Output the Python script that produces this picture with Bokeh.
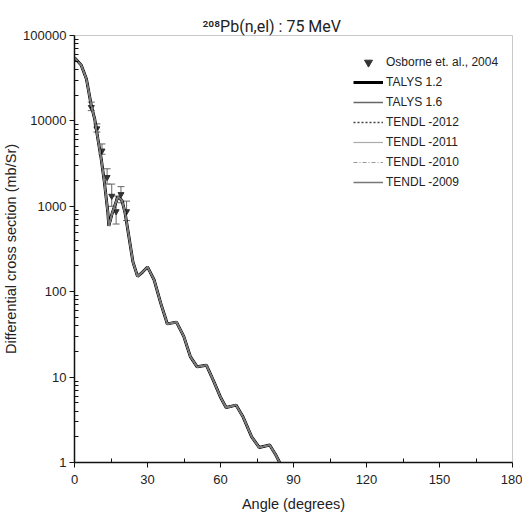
from bokeh.plotting import figure
from bokeh.models import (ColumnDataSource, Whisker, TeeHead, FixedTicker,
                          NumeralTickFormatter, Legend, LegendItem, Range1d)
from bokeh.embed import file_html
from bokeh.resources import INLINE

# ---- data ----
curve_angle = [0, 2.8, 4.9, 6.9, 8.3, 9.6, 11.0, 12.3, 13.7, 14.1, 15.5, 17.8, 19.5,
               20.8, 22.5, 24.0, 25.9, 28.0, 30.0, 32.7, 35.4, 37.5, 38.1, 41.9, 44.9,
               47.6, 50.4, 54.2, 57.1, 59.9, 62.3, 66.4, 69.3, 72.8, 75.9, 80.2, 82.5, 84.3]
curve_xs = [55000, 44700, 30900, 15100, 10500, 6170, 3550, 1900, 850, 590, 830, 1290, 1175,
            830, 417, 224, 151, 170, 195, 138, 74, 48, 42, 44, 30,
            17.4, 13.2, 13.8, 9.1, 5.9, 4.4, 4.7, 3.4, 2.0, 1.5, 1.6, 1.26, 1.0]

exp_angle = [6.9, 9.2, 11.3, 13.4, 15.3, 17.1, 19.1, 21.4]
exp_xs = [14450, 8130, 4470, 2190, 1320, 870, 1380, 870]
exp_hi = [16600, 9230, 5370, 2750, 1820, 1320, 1700, 1150]
exp_lo = [13200, 7410, 4070, 1820, 1000, 620, 1100, 680]

y_ticks = [1, 10, 100, 1000, 10000, 100000]
x_ticks = [0, 30, 60, 90, 120, 150, 180]

series = [
    ("TALYS 1.2", "#000000", 3.0, "solid"),
    ("TALYS 1.6", "#666666", 1.5, "solid"),
    ("TENDL -2012", "#444444", 1.5, "2 2"),
    ("TENDL -2011", "#aaaaaa", 1.2, "solid"),
    ("TENDL -2010", "#999999", 1.2, "4 2 1 2"),
    ("TENDL -2009", "#777777", 1.5, "solid"),
]

FONT = "Liberation Sans"
TXT = "#222222"

p = figure(frame_width=438, frame_height=427, y_axis_type="log",
           x_range=Range1d(0, 180), y_range=Range1d(1, 100000),
           output_backend="svg", toolbar_location=None,
           min_border_left=60, min_border_right=10, min_border_top=35, min_border_bottom=10)

p.xgrid.visible = False
p.ygrid.visible = False
p.outline_line_color = "#c8c8c8"
p.background_fill_color = "white"
p.border_fill_color = "white"

# title
p.title.text = "\u00b2\u2070\u2078Pb(n,el) : 75 MeV"
p.title.text_font = "Roboto"
p.title.text_font_size = "16px"
p.title.text_font_style = "normal"
p.title.text_color = TXT
p.title.align = "left"
p.title.offset = 128
p.title.standoff = 0

# axes
p.xaxis.ticker = FixedTicker(ticks=x_ticks, minor_ticks=[15, 45, 75, 105, 135, 165])
minor = [m * 10 ** k for k in range(0, 5) for m in range(2, 10)]
p.yaxis.ticker = FixedTicker(ticks=y_ticks, minor_ticks=minor)
p.yaxis.formatter = NumeralTickFormatter(format="0")
for ax in (p.xaxis[0], p.yaxis[0]):
    ax.axis_line_color = "#111111"
    ax.axis_line_width = 1.5
    ax.major_tick_line_color = "#111111"
    ax.minor_tick_line_color = "#111111"
    ax.major_tick_out = 5
    ax.major_tick_in = 0
    ax.minor_tick_in = 4
    ax.minor_tick_out = 0
    ax.major_label_text_font = FONT
    ax.major_label_text_font_size = "13px"
    ax.major_label_text_color = TXT
    ax.axis_label_text_font = FONT
    ax.axis_label_text_font_size = "14.5px"
    ax.axis_label_text_font_style = "normal"
    ax.axis_label_text_color = TXT
p.xaxis.major_label_standoff = 7
p.xaxis.axis_label_standoff = 9
p.yaxis.major_label_standoff = 3
p.yaxis.axis_label_standoff = 1
p.xaxis.axis_label = "Angle (degrees)"
p.yaxis.axis_label = "Differential cross section (mb/Sr)"

# experimental data
src = ColumnDataSource(dict(x=exp_angle, y=exp_xs, hi=exp_hi, lo=exp_lo))
wh = Whisker(source=src, base="x", upper="hi", lower="lo", dimension="height",
             line_color="#666666", line_width=1,
             upper_head=TeeHead(size=7, line_color="#666666", line_width=1),
             lower_head=TeeHead(size=7, line_color="#666666", line_width=1))
p.add_layout(wh)
r_exp = p.scatter("x", "y", source=src, marker="inverted_triangle", size=6,
                  fill_color="#333333", line_color="#333333")

items = [LegendItem(label="Osborne et. al., 2004", renderers=[r_exp])]
for name, col, w, dash in series:
    r = p.line(curve_angle, curve_xs, line_color=col, line_width=w, line_dash=dash)
    items.append(LegendItem(label=name, renderers=[r]))

leg = Legend(items=items, location=(279, 270), border_line_color=None,
             background_fill_alpha=0, padding=0, margin=0, spacing=0,
             glyph_width=30, glyph_height=20, label_height=20, label_standoff=3,
             label_text_font=FONT, label_text_font_size="12px", label_text_color=TXT)
p.add_layout(leg)

open("out.html", "w").write(file_html(p, INLINE))
